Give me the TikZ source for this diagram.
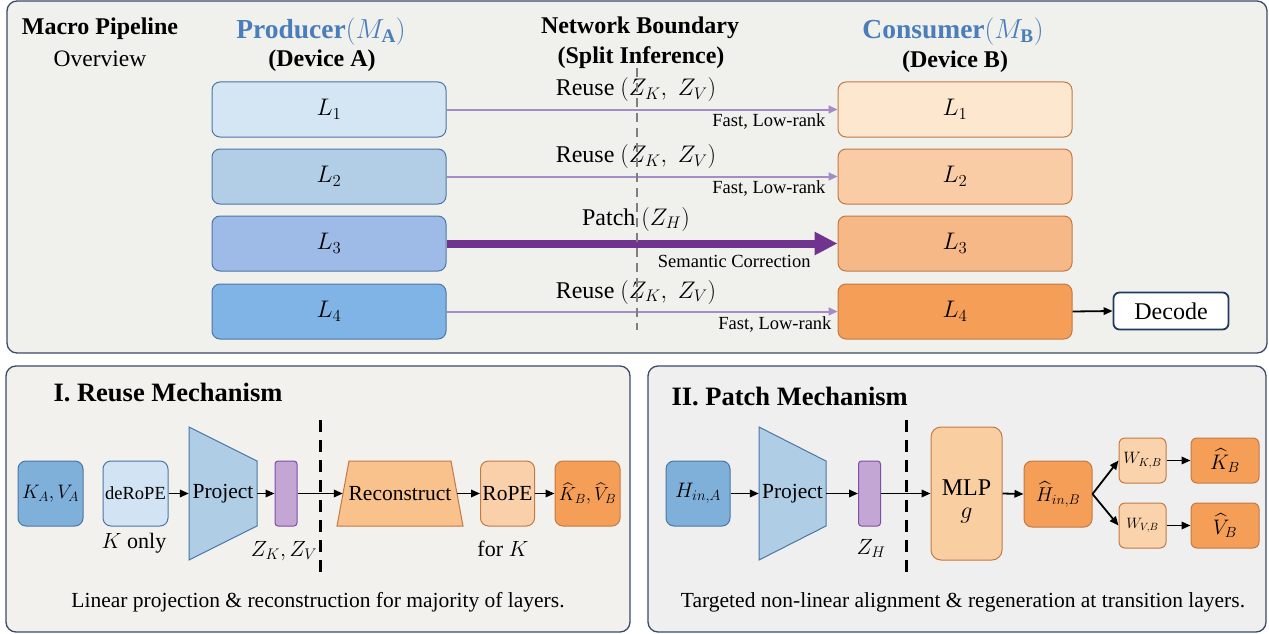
\RequirePackage{fix-cm}
\documentclass[tikz,border=0pt]{standalone}
\usepackage{amsmath}
\usepackage{fontspec}
\IfFontExistsTF{LiberationSerif-Regular.ttf}
  {\setmainfont{LiberationSerif}[Extension=.ttf,UprightFont=*-Regular,BoldFont=*-Bold,ItalicFont=*-Italic,BoldItalicFont=*-BoldItalic]}
  {\setmainfont{Liberation Serif}}
\renewcommand\familydefault{\rmdefault}
\usetikzlibrary{arrows.meta}

\newcommand\fsz[1]{\fontsize{#1}{#1}\selectfont\rmfamily}

% palette
\definecolor{topbg}{HTML}{F0F0EC}
\definecolor{leftbg}{HTML}{F2F1EE}
\definecolor{rightbg}{HTML}{EFEFEF}
\definecolor{panelln}{HTML}{3B4A68}
\definecolor{hdrblue}{HTML}{4A7DBA}
\definecolor{blueln}{HTML}{4A77A6}
\definecolor{laA}{HTML}{D4E5F4}
\definecolor{laB}{HTML}{B2CEE6}
\definecolor{laC}{HTML}{9EBBE7}
\definecolor{laD}{HTML}{80B3E6}
\definecolor{orangeln}{HTML}{C27A44}
\definecolor{lbA}{HTML}{FDE7CF}
\definecolor{lbB}{HTML}{F9CCA6}
\definecolor{lbC}{HTML}{F7B887}
\definecolor{lbD}{HTML}{F59E58}
\definecolor{reusec}{HTML}{A68CC6}
\definecolor{patchc}{HTML}{70348F}
\definecolor{bdashc}{HTML}{7F7F7F}
\definecolor{navy}{HTML}{1F3A60}
\definecolor{kvfill}{HTML}{7FB0DA}
\definecolor{derope}{HTML}{D2E4F4}
\definecolor{projfill}{HTML}{AFCDE5}
\definecolor{zfill}{HTML}{C3A6D3}
\definecolor{zline}{HTML}{7D4FA6}
\definecolor{recfill}{HTML}{F9C18B}
\definecolor{ropefill}{HTML}{FAD0AA}
\definecolor{mlpfill}{HTML}{F9CFA2}
\definecolor{wfill}{HTML}{FAD3AC}
\definecolor{outfill}{HTML}{F59E58}

\begin{document}
\begin{tikzpicture}[x=1pt,y=-1pt,
  panel/.style={draw=panelln,line width=1.3,rounded corners=10},
  layerA/.style={draw=blueln,line width=1,rounded corners=8,minimum width=234,minimum height=55,inner sep=0,font=\fsz{24}},
  layerB/.style={layerA,draw=orangeln},
  hdr/.style={font=\fsz{24}\bfseries},
  bighdr/.style={text=hdrblue,font=\fsz{27.5}\bfseries},
  lbl/.style={font=\fsz{24}},
  small/.style={font=\fsz{18.5}},
  reuse/.style={draw=reusec,line width=2,-{Triangle[length=9pt,width=8pt]}},
  patch/.style={draw=patchc,line width=8,-{Triangle[length=23pt,width=22pt]}},
  bdash/.style={draw=bdashc,line width=1.8,dash pattern=on 9pt off 6pt},
  kdash/.style={draw=black,line width=3,dash pattern=on 12pt off 8pt},
  blk/.style={draw=black,line width=1.8,-{Triangle[length=9pt,width=7.5pt]}},
  bbox/.style={line width=1,rounded corners=8,minimum height=65,inner sep=0,font=\fsz{21}},
  bluebox/.style={bbox,draw=blueln},
  orbox/.style={bbox,draw=orangeln},
  sbox/.style={orbox,minimum height=45,rounded corners=6},
  zbar/.style={draw=zline,fill=zfill,line width=1,rounded corners=3,minimum width=22,minimum height=65,inner sep=0},
  trap/.style={line width=1,line join=miter},
  ttl/.style={font=\fsz{26.5}\bfseries,anchor=west},
  caption/.style={font=\fsz{21.5}},
  note/.style={font=\fsz{22},anchor=base}
]
\useasboundingbox (0,0) rectangle (1269,634);

% ---------------- panels ----------------
\draw[panel,fill=topbg] (7,1) rectangle (1267,353);
\draw[panel,fill=leftbg] (6,366) rectangle (630,632);
\draw[panel,fill=rightbg] (648,366) rectangle (1266,632);

% ---------------- macro pipeline ----------------
\node[hdr] (mp) at (100,29) {Macro Pipeline};
\node[font=\fsz{23.5}] (ov) at (100,59) {Overview};
\node[bighdr] (prod) at (321,32) {Producer$(M_{\mathbf{A}})$};
\node[hdr] (deva) at (322,61) {(Device A)};
\node[hdr] (nb) at (640,28) {Network Boundary};
\node[hdr] (si) at (641,58) {(Split Inference)};
\node[bighdr] (cons) at (953,32) {Consumer$(M_{\mathbf{B}})$};
\node[hdr] (devb) at (955,62) {(Device B)};

\node[layerA,fill=laA] (a1) at (329,109.5) {$L_1$};
\node[layerA,fill=laB] (a2) at (329,176.5) {$L_2$};
\node[layerA,fill=laC] (a3) at (329,243.5) {$L_3$};
\node[layerA,fill=laD] (a4) at (329,311.5) {$L_4$};

\node[layerB,fill=lbA] (b1) at (955,109.5) {$L_1$};
\node[layerB,fill=lbB] (b2) at (955,176.5) {$L_2$};
\node[layerB,fill=lbC] (b3) at (955,243.5) {$L_3$};
\node[layerB,fill=lbD] (b4) at (955,311.5) {$L_4$};

\node[draw=navy,fill=white,line width=1.8,rounded corners=6,minimum width=115,minimum height=37,inner sep=0,font=\fsz{24}] (dec) at (1171,311) {Decode};

\draw[reuse] (a1.east) -- (b1.west);
\draw[reuse] (a2.east) -- (b2.west);
\draw[patch] (a3.east) -- (b3.west);
\draw[reuse] (a4.east) -- (b4.west);
\draw[blk] (b4.east) -- (dec.west);

\node[lbl] (r1) at (636,90) {Reuse $(Z_K,\;Z_V)$};
\node[lbl] (r2) at (636,157) {Reuse $(Z_K,\;Z_V)$};
\node[lbl] (r3) at (636,219) {Patch $(Z_H)$};
\node[lbl] (r4) at (636,292) {Reuse $(Z_K,\;Z_V)$};
\node[small,anchor=east] (f1) at (829,122) {Fast, Low-rank};
\node[small,anchor=east] (f2) at (829,189) {Fast, Low-rank};
\node[small,anchor=east] (f3) at (814,261) {Semantic Correction};
\node[small,anchor=east] (f4) at (835,325) {Fast, Low-rank};

\coordinate (nbt) at (637,68);
\coordinate (nbb) at (637,330);
\draw[bdash] (nbt) -- (nbb);

% ---------------- I. reuse mechanism ----------------
\node[ttl] (t1) at (50,392) {I. Reuse Mechanism};

\node[bluebox,fill=kvfill,minimum width=65,font=\fsz{19.5}] (ka) at (50.5,493.5) {$K_A,V_A$};
\node[bluebox,fill=derope,minimum width=65,font=\fsz{18.5}] (dr) at (135.5,493.5) {deRoPE};
\draw[trap,draw=blueln,fill=projfill] (189,427) -- (257,461) -- (257,526) -- (189,560) -- cycle;
\node[minimum width=68,minimum height=65,inner sep=0,font=\fsz{21.5}] (pj) at (223,493.5) {Project};
\node[zbar] (zkv) at (286,493.5) {};
\draw[trap,draw=orangeln,fill=recfill] (349,461) -- (451,461) -- (463,526) -- (337,526) -- cycle;
\node[minimum width=114,minimum height=65,inner sep=0,font=\fsz{21.5}] (rc) at (400,493.5) {Reconstruct};
\node[orbox,fill=ropefill,minimum width=54,font=\fsz{21.5}] (rp) at (507.5,493.5) {RoPE};
\node[orbox,fill=outfill,minimum width=65,font=\fsz{19}] (kvb) at (587.5,493.5) {$\widehat{K}_B,\widehat{V}_B$};

\draw[blk] (dr.east) -- (pj.west);
\draw[blk] (pj.east) -- (zkv.west);
\draw[blk] (zkv.east) -- (rc.west);
\draw[blk] (rc.east) -- (rp.west);
\draw[blk] (rp.east) -- (kvb.west);

\node[note] (ko) at (134,548) {$K$ only};
\node[note] (zl) at (284,556) {$Z_K,Z_V$};
\node[note] (fk) at (503,556) {for $K$};

\coordinate (d1t) at (320,420);
\coordinate (d1b) at (320,573);
\draw[kdash] (d1t) -- (d1b);

\node[caption] (c1) at (318,602) {Linear projection \& reconstruction for majority of layers.};

% ---------------- II. patch mechanism ----------------
\node[ttl] (t2) at (668,396) {II. Patch Mechanism};

\node[bluebox,fill=kvfill,minimum width=64,font=\fsz{21}] (ha) at (698,493.5) {$H_{in,A}$};
\draw[trap,draw=blueln,fill=projfill] (759,427) -- (826,461) -- (826,526) -- (759,560) -- cycle;
\node[minimum width=67,minimum height=65,inner sep=0,font=\fsz{21.5}] (pj2) at (792.5,493.5) {Project};
\node[zbar] (zh) at (869.5,493.5) {};
\node[orbox,fill=mlpfill,minimum width=71,minimum height=133,rounded corners=10] (mlp) at (966.5,493.5) {};
\node[font=\fsz{24},anchor=base] (mlpt) at (966.5,495) {MLP};
\node[font=\fsz{24},anchor=base] (mlpg) at (966.5,518) {$g$};
\node[orbox,fill=outfill,minimum width=68,minimum height=66,font=\fsz{20}] (hb) at (1058,494) {$\widehat{H}_{in,B}$};
\node[sbox,fill=wfill,minimum width=47,font=\fsz{16.5}] (wk) at (1142.5,460.5) {$W_{K,B}$};
\node[sbox,fill=wfill,minimum width=47,font=\fsz{15}] (wv) at (1142.5,525.5) {$W_{V,B}$};
\node[sbox,fill=outfill,minimum width=68,font=\fsz{21}] (kb) at (1225,460.5) {$\widehat{K}_B$};
\node[sbox,fill=outfill,minimum width=68,font=\fsz{21}] (vb) at (1225,525.5) {$\widehat{V}_B$};

\draw[blk] (ha.east) -- (pj2.west);
\draw[blk] (pj2.east) -- (zh.west);
\draw[blk] (zh.east) -- (mlp.west);
\draw[blk] (mlp.east) -- (hb.west);
\draw[blk] (hb.east) -- (wk.west);
\draw[blk] (hb.east) -- (wv.west);
\draw[blk] (wk.east) -- (kb.west);
\draw[blk] (wv.east) -- (vb.west);

\node[note] (zhl) at (871,554) {$Z_H$};

\coordinate (d2t) at (906,420);
\coordinate (d2b) at (906,573);
\draw[kdash] (d2t) -- (d2b);

\node[caption] (c2) at (963,602) {Targeted non-linear alignment \& regeneration at transition layers.};
\end{tikzpicture}
\end{document}
